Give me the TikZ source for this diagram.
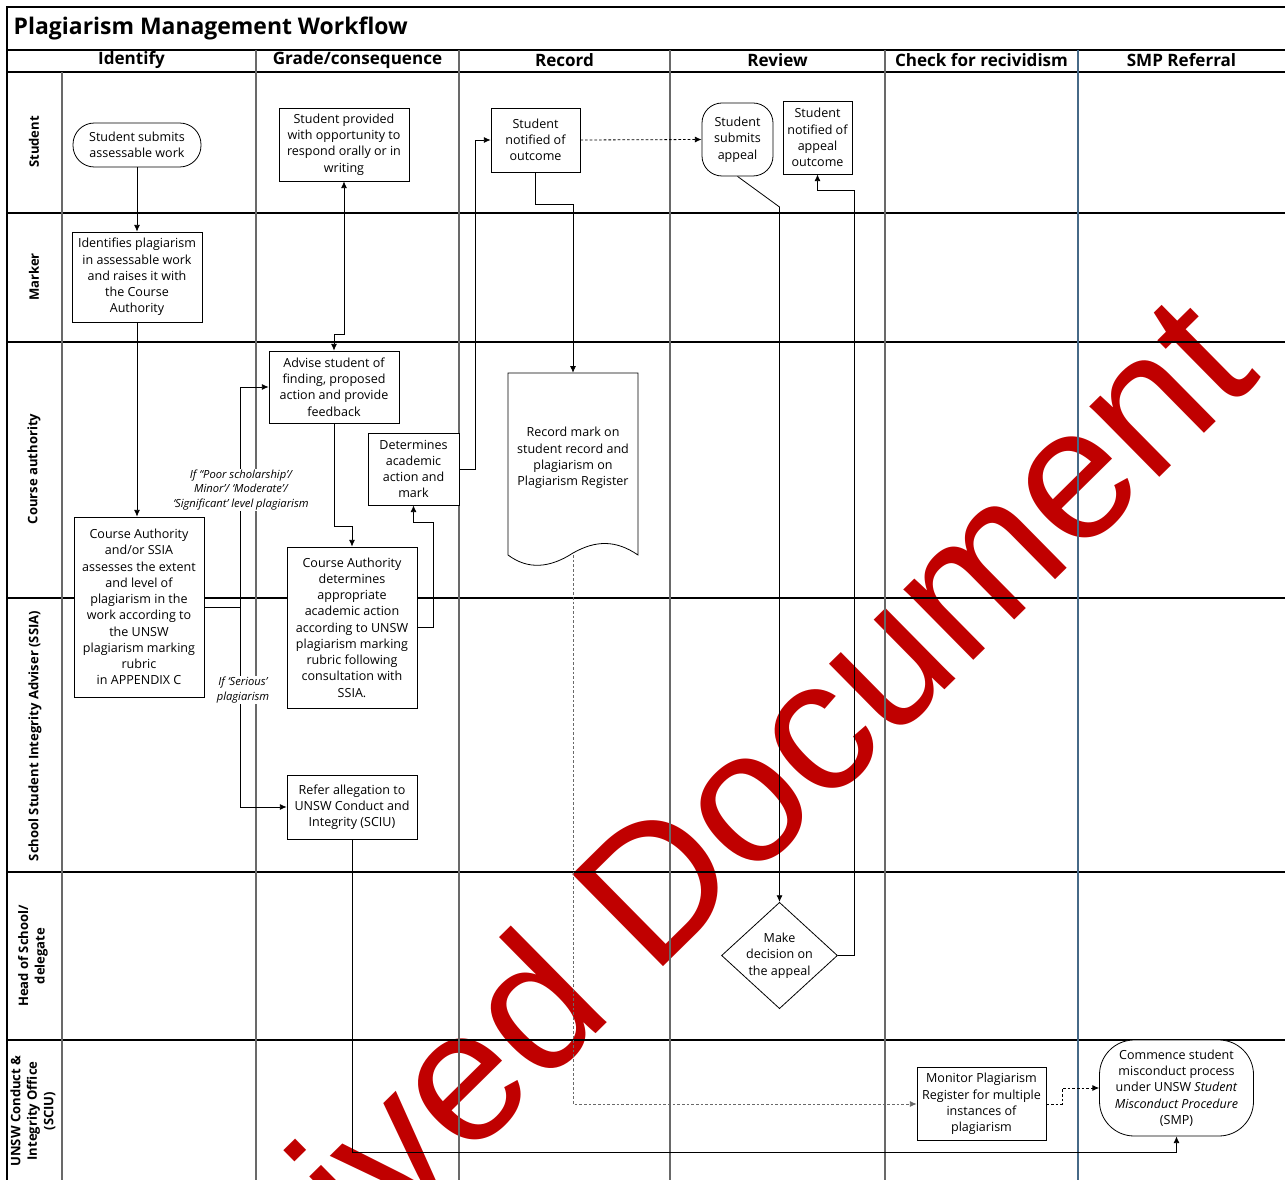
\documentclass[tikz,border=0pt]{standalone}
\usepackage{fontspec}
\setmainfont{Open Sans}
\newfontfamily\wmfont{Liberation Sans}
\usetikzlibrary{arrows.meta,shapes.geometric}
\definecolor{wmred}{RGB}{192,0,0}
\definecolor{colgray}{RGB}{105,105,105}
\definecolor{colblue}{RGB}{70,105,135}

\begin{document}
\begin{tikzpicture}[
		x=0.75pt,y=-0.75pt,
		font=\fontsize{9.4}{12.2}\selectfont,
		box/.style={draw,fill=white,align=center,inner sep=1pt,line width=0.6pt},
		term/.style={box,rounded corners=#1},
		choice/.style={box,diamond,aspect=1.09,inner sep=0pt},
		lanelbl/.style={rotate=90,align=center,font=\fontsize{9.8}{12.4}\selectfont\bfseries},
		colhead/.style={font=\fontsize{12.8}{14}\selectfont\bfseries},
		cond/.style={fill=white,inner sep=1pt,align=center,font=\fontsize{8.4}{10.9}\selectfont\itshape},
		arr/.style={-{Latex[length=5pt,width=4.5pt]},line width=0.6pt},
		darr/.style={{Latex[length=5pt,width=4.5pt]}-{Latex[length=5pt,width=4.5pt]},line width=0.6pt},
		dashy/.style={dash pattern=on 2pt off 1.5pt},
		laneline/.style={line width=1pt},
		colline/.style={line width=1pt,colgray}
		]
		\useasboundingbox (0,0) rectangle (1285,1180);

		% watermark, behind everything
		\begin{scope}
			\clip (0,0) rectangle (1285,1180);
			\node[text=wmred,font=\wmfont\fontsize{141}{141}\selectfont,rotate=44.6,anchor=base east,inner sep=0pt] (wm) at (1263,376) {Archived Document};
		\end{scope}

		% frame, lanes and phases
		\draw[laneline] (7,1180) -- (7,7) -- (1285,7);
		\foreach \y in {50,72,213,342,598,872,1040}
			\draw[laneline] (7,\y) -- (1285,\y);
		\draw[colline] (62,72) -- (62,1180);
		\foreach \x in {256,459,670,885}
			\draw[colline] (\x,50) -- (\x,1180);
		\draw[line width=0.8pt,colblue] (1078,50) -- (1078,1180);

		\node[anchor=west,font=\fontsize{17.2}{19}\selectfont\bfseries] (title) at (9,28) {Plagiarism Management Workflow};
		\node[colhead] (hIdentify) at (131.5,60) {Identify};
		\node[colhead] (hGrade) at (357.5,60) {Grade/consequence};
		\node[colhead] (hRecord) at (564.5,60) {Record};
		\node[colhead] (hReview) at (777.5,60) {Review};
		\node[colhead] (hCheck) at (981.5,60) {Check for recividism};
		\node[colhead] (hSMP) at (1181.5,60) {SMP Referral};

		\node[lanelbl] (lStudent) at (34,142) {Student};
		\node[lanelbl] (lMarker) at (34,277) {Marker};
		\node[lanelbl] (lCourse) at (34,469) {Course authority};
		\node[lanelbl] (lSSIA) at (35,736) {School Student Integrity Adviser (SSIA)};
		\node[lanelbl] (lHead) at (33,956) {Head of School/\\delegate};
		\node[lanelbl] (lSCIU) at (33,1111) {UNSW Conduct \&\\Integrity Office\\(SCIU)};

		% steps
		\node[term=16pt,minimum width=96pt,minimum height=33pt] (ssub) at (137,145) {Student submits\\assessable work};
		\node[box,minimum width=97.5pt,minimum height=67.5pt] (ident) at (137,277) {Identifies plagiarism\\in assessable work\\and raises it with\\the Course\\Authority};
		\node[box,minimum width=97.5pt,minimum height=135pt] (assess) at (139,607) {Course Authority\\and/or SSIA\\assesses the extent\\and level of\\plagiarism in the\\work according to\\the UNSW\\plagiarism marking\\rubric\\in APPENDIX C};
		\node[box,minimum width=97.5pt,minimum height=54.75pt] (provided) at (344,144.5) {Student provided\\with opportunity to\\respond orally or in\\writing};
		\node[box,minimum width=97.5pt,minimum height=54pt] (advise) at (334,387) {Advise student of\\finding, proposed\\action and provide\\feedback};
		\node[box,minimum width=97.5pt,minimum height=120.75pt] (cadet) at (352,627.5) {Course Authority\\determines\\appropriate\\academic action\\according to UNSW\\plagiarism marking\\rubric following\\consultation with\\SSIA.};
		\node[box,minimum width=68.25pt,minimum height=54pt] (dacad) at (413.5,469) {Determines\\academic\\action and\\mark};
		\node[box,minimum width=97.5pt,minimum height=48pt] (refer) at (352,807) {Refer allegation to\\UNSW Conduct and\\Integrity (SCIU)};
		\node[box,minimum width=66.75pt,minimum height=48pt] (notif) at (535.5,140) {Student\\notified of\\outcome};

		\draw[line width=0.6pt,fill=white] (508,373) -- (638,373) -- (638,555)
			.. controls (616,540) and (596,540) .. (573,553)
			.. controls (550,568) and (528,570) .. (508,555) -- cycle;
		\node[align=center,minimum width=97.5pt,minimum height=127.5pt] (record) at (573,458) {Record mark on\\student record and\\plagiarism on\\Plagiarism Register};
		\coordinate (recbot) at (573,555);

		\node[term=15pt,minimum width=53.25pt,minimum height=54.75pt] (appeal) at (737.5,139.5) {Student\\submits\\appeal};
		\node[box,minimum width=51.75pt,minimum height=54.75pt] (apout) at (817.5,137.5) {Student\\notified of\\appeal\\outcome};
		\node[choice,minimum width=84pt,minimum height=77.25pt] (decide) at (779.5,955.5) {Make\\decision on\\the appeal};
		\node[box,minimum width=96.75pt,minimum height=54.75pt] (monitor) at (981.5,1104) {Monitor Plagiarism\\Register for multiple\\instances of\\plagiarism};
		\node[term=26pt,minimum width=115.5pt,minimum height=72pt] (smp) at (1176.5,1088) {Commence student\\misconduct process\\under UNSW \textit{Student}\\\textit{Misconduct Procedure}\\(SMP)};

		% flow
		\coordinate (split) at (240,607);
		\draw[arr] (ssub) -- (ident);
		\draw[arr] (ident.south) -- (ident.south |- assess.north);
		\draw[line width=0.6pt] (assess.east) -- (split);
		\draw[arr] (split) |- (advise.west);
		\draw[arr] (split) |- (refer.west);
		\node[cond] (cMinor) at (241,490) {If “Poor scholarship’/\\Minor’/ ‘Moderate’/\\‘Significant’ level plagiarism};
		\node[cond] (cSerious) at (243,690) {If ‘Serious’\\plagiarism};
		\draw[darr] (provided.south) |- ([yshift=12pt]advise.north) -- (advise.north);
		\draw[arr] (advise.south) |- ([yshift=15pt]cadet.north) -- (cadet.north);
		\draw[arr] (cadet.east) -- ++(16,0) |- ([yshift=-12.75pt]dacad.south) -- (dacad.south);
		\draw[arr] (dacad.east) -- ++(16,0) |- (notif.west);
		\draw[arr] (notif.south) -- ++(0,32) -| (record.north);
		\draw[arr,dashy] (notif.east) -- (appeal.west);
		\draw[arr] (appeal.south) -- (decide.north |- 0,207) -- (decide.north);
		\draw[arr] (decide.east) -- ++(17,0) |- ([yshift=-12pt]apout.south) -- (apout.south);
		\draw[arr,dashy,colgray] (recbot) |- (monitor.west);
		\draw[arr,dashy] (monitor.east) -- ++(16,0) |- (smp.west);
		\draw[arr] (refer.south) |- ([yshift=-12pt]smp.south) -- (smp.south);
	\end{tikzpicture}
\end{document}
